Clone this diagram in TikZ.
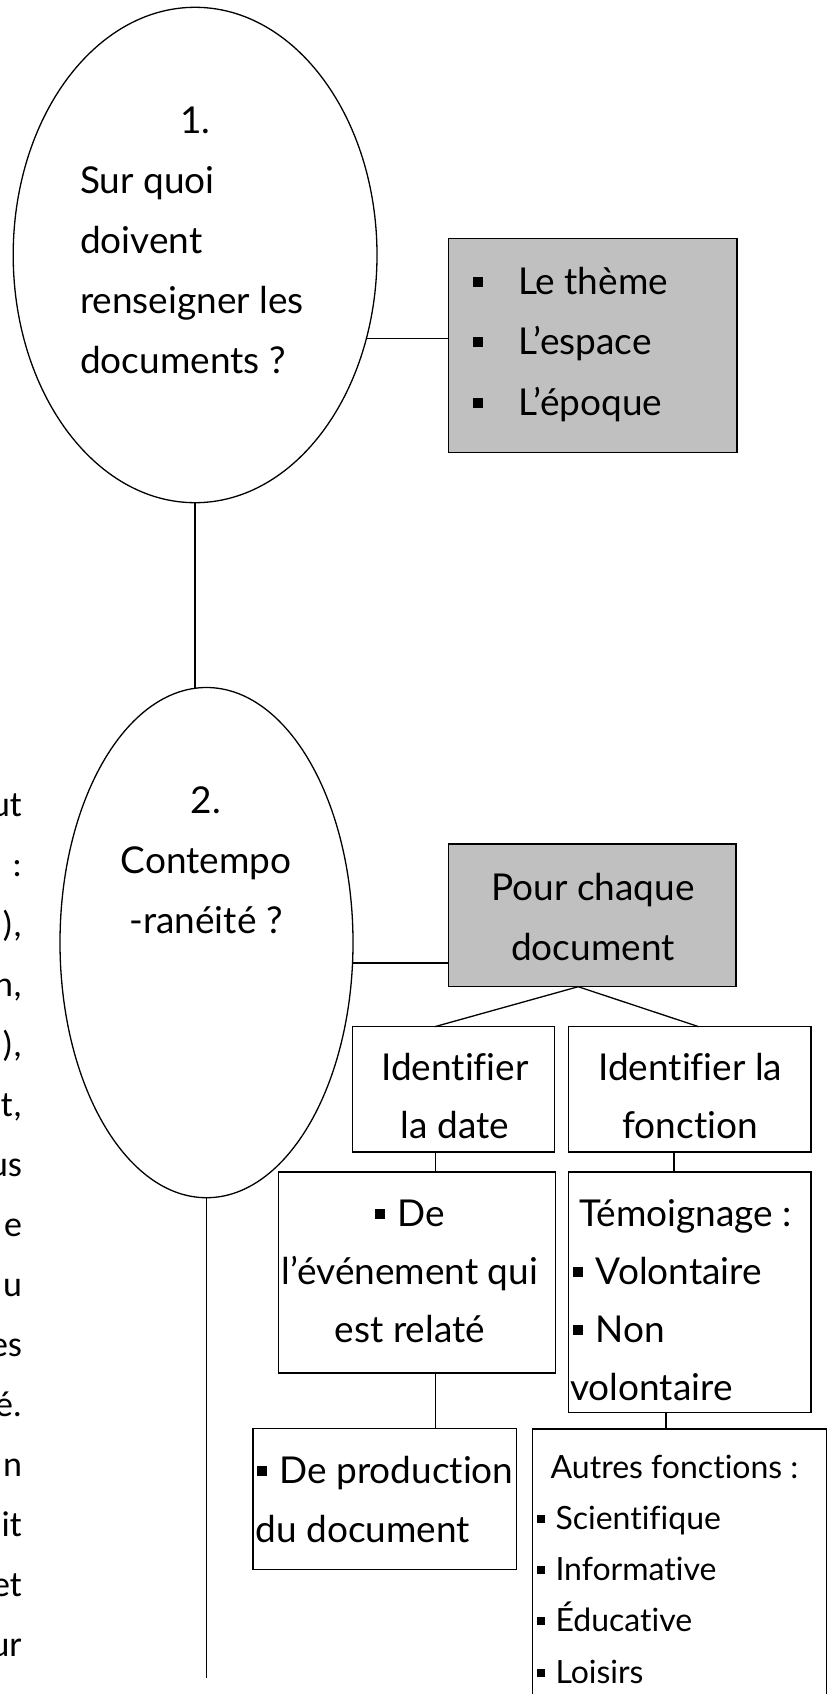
\documentclass[tikz,border=0pt]{standalone}
\usepackage{fontspec}
\setmainfont{Lato}[Ligatures=NoCommon]
\newfontfamily\sidef{Carlito}[Ligatures=NoCommon]
\usetikzlibrary{shapes.geometric}
\definecolor{boxgray}{HTML}{C0C0C0}
\newcommand\bul[3]{\makebox[#1][l]{\rule[#3]{#2}{#2}}}
\newcommand\linesC[2]{\vtop{\baselineskip=#1\lineskip=0pt\lineskiplimit=-100pt\halign{\hfil##\hfil\cr#2\crcr}}}
\newcommand\linesL[2]{\vtop{\baselineskip=#1\lineskip=0pt\lineskiplimit=-100pt\halign{##\hfil\cr#2\crcr}}}
\newcommand\linesR[2]{\vtop{\baselineskip=#1\lineskip=0pt\lineskiplimit=-100pt\halign{\hfil##\cr#2\crcr}}}
\begin{document}
\begin{tikzpicture}[x=1pt,y=-1pt, line width=1.3pt,
  every node/.style={inner sep=0pt, outer sep=0pt},
  oval/.style={ellipse, draw},
  grayblock/.style={draw, fill=boxgray},
  whiteblock/.style={draw, fill=white},
  txt/.style={font=\fontsize{37}{60}\selectfont},
  smalltxt/.style={font=\fontsize{32}{51}\selectfont},
  side/.style={font=\sidef\fontsize{36}{60}\selectfont}]
\useasboundingbox (0,0) rectangle (828,1694);

% ellipses
\node[oval, minimum width=363.8pt, minimum height=495.4pt] (e1) at (195.1,255) {};
\node[oval, minimum width=293pt, minimum height=510.2pt] (e2) at (206.5,942.6) {};

% boxes
\node[grayblock, minimum width=288.7pt, minimum height=214.4pt] (b1) at (592.65,345.5) {};
\node[grayblock, minimum width=287.4pt, minimum height=142.7pt] (b2) at (592.3,915.35) {};
\node[whiteblock, minimum width=201.7pt, minimum height=125.3pt] (idate) at (453.45,1089.35) {};
\node[whiteblock, minimum width=242.5pt, minimum height=125.3pt] (ifct) at (689.75,1089.35) {};
\node[whiteblock, minimum width=276.7pt, minimum height=201.1pt] (evt) at (417.15,1272.45) {};
\node[whiteblock, minimum width=242.5pt, minimum height=240.9pt] (temo) at (689.75,1292.35) {};
\node[whiteblock, minimum width=263.4pt, minimum height=140.6pt] (prod) at (384.7,1499.1) {};
\node[whiteblock, minimum width=294.1pt, minimum height=311pt] (autres) at (679.35,1584.5) {};

% texts
\node[txt, anchor=base] (t1n) at (195.4,133.3) {1.};
\node[txt, anchor=base west] (t1) at (80,193.3) {\linesL{60pt}{Sur quoi\cr doivent\cr renseigner les\cr documents ?}};
\node[txt, anchor=base] (t2) at (206,813) {\linesC{60.2pt}{2.\cr Contempo\cr -ranéité ?}};
\node[txt, anchor=base west] (t3) at (473,294) {\linesL{60.5pt}{\bul{45pt}{10pt}{7.3pt}Le thème\cr \bul{45pt}{10pt}{7.3pt}L’espace\cr \bul{45pt}{10pt}{7.3pt}L’époque}};
\node[txt, anchor=base] (t4) at (593,900) {\linesC{60pt}{Pour chaque\cr document}};
\node[txt, anchor=base] (t5) at (455,1080) {\linesC{58pt}{Identifier\cr la date}};
\node[txt, anchor=base] (t6) at (690.3,1080) {\linesC{58pt}{Identifier la\cr fonction}};
\node[txt, anchor=base] (t7) at (410,1226.4) {\linesC{58.2pt}{\bul{22.4pt}{10pt}{7.3pt}De\cr l’événement qui\cr est relaté}};
\node[txt, anchor=base west] (t8) at (570.3,1226.4) {\linesL{57.9pt}{\hskip9pt Témoignage :\cr \hskip2.7pt\bul{22.8pt}{10pt}{7.3pt}Volontaire\cr \hskip2.7pt\bul{22.8pt}{10pt}{7.3pt}Non\cr volontaire}};
\node[txt, anchor=base west] (t9) at (255.5,1483.3) {\linesL{59.1pt}{\hskip1.9pt\bul{22pt}{10pt}{7.3pt}De production\cr du document}};
\node[smalltxt, anchor=base west] (t10) at (537,1478) {\linesL{51.25pt}{\hskip13.7pt Autres fonctions :\cr \bul{18.5pt}{8pt}{6.5pt}Scientifique\cr \bul{18.5pt}{8pt}{6.5pt}Informative\cr \bul{18.5pt}{8pt}{6.5pt}Éducative\cr \bul{18.5pt}{8pt}{6.5pt}Loisirs}};
\node[side, anchor=base east] (side) at (22,816.7) {\linesR{60pt}{ut\cr :\cr ),\cr n,\cr ),\cr t,\cr us\cr e\cr u\cr es\cr é.\cr n\cr it\cr et\cr ur}};

% connectors
\draw (e1.-26.5) -- (e1.-26.5 -| b1.west);
\draw (e1.south) -- (e1.south |- e2.north);
\draw (e2.-8.9) -- (e2.-8.9 -| b2.west);
\coordinate (tail) at (207.5,1677.7);
\draw (e2.south) -- (e2.south |- tail);
\draw ([xshift=-14.1pt]b2.south) -- ([xshift=-18.75pt]idate.north);
\draw ([xshift=-14.1pt]b2.south) -- ([xshift=9.05pt]ifct.north);
\draw ([xshift=-18.15pt]idate.south) coordinate (c1) -- (c1 |- evt.north);
\draw ([xshift=18.05pt]evt.south) coordinate (c2) -- (c2 |- prod.north);
\draw ([xshift=-15.85pt]ifct.south) coordinate (c3) -- (c3 |- temo.north);
\draw ([xshift=-23.85pt]temo.south) coordinate (c4) -- (c4 |- autres.north);
\end{tikzpicture}
\end{document}
